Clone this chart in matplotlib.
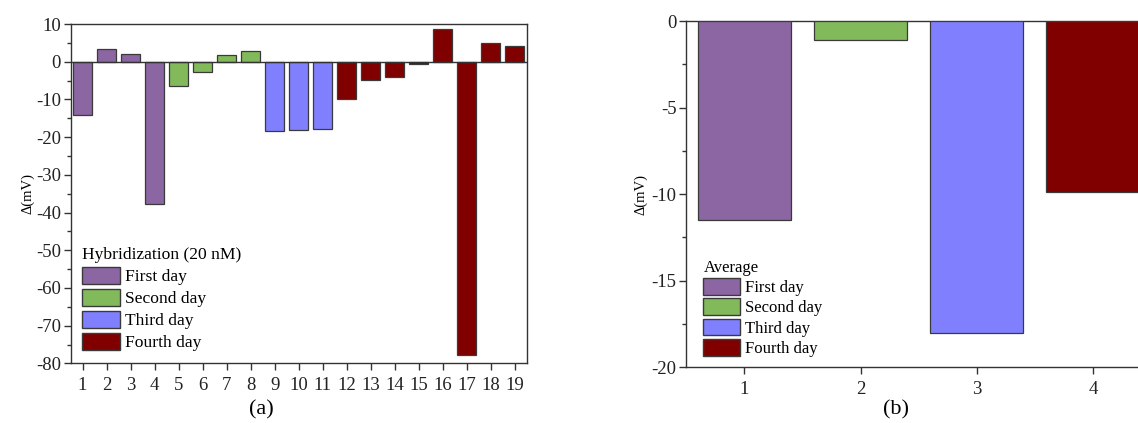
import matplotlib.pyplot as plt
from matplotlib.patches import Patch
from matplotlib.ticker import MultipleLocator

plt.rcParams['font.family'] = ['Liberation Serif', 'DejaVu Serif']
plt.rcParams['axes.unicode_minus'] = False

# data
samples = list(range(1, 20))
delta_mv = [-14.1, 3.3, 2.2, -37.7, -6.4, -2.8, 1.8, 2.9, -18.4, -18.0, -17.7,
            -10.0, -4.9, -4.0, -0.7, 8.6, -77.9, 5.1, 4.2]
sample_day = [0, 0, 0, 0, 1, 1, 1, 1, 2, 2, 2, 3, 3, 3, 3, 3, 3, 3, 3]

days = [1, 2, 3, 4]
avg_mv = [-11.5, -1.1, -18.0, -9.9]

day_labels = ["First day", "Second day", "Third day", "Fourth day"]
day_colors = ["#8C65A3", "#82BA5B", "#8080FF", "#800000"]
edge = "#3a3a3a"

fig = plt.figure(figsize=(11.38, 4.23), dpi=100)
ax_a = fig.add_axes([0.062, 0.141, 0.401, 0.802])
ax_b = fig.add_axes([0.603, 0.132, 0.4085, 0.818])

# (a) individual measurements
ax_a.bar(samples, delta_mv, width=0.8, color=[day_colors[d] for d in sample_day],
         edgecolor=edge, linewidth=0.9, zorder=3)
ax_a.axhline(0, color="#333333", lw=1.0, zorder=4)
ax_a.set_xlim(0.5, 19.5)
ax_a.set_ylim(-80, 10)
ax_a.set_xticks(samples)
ax_a.yaxis.set_major_locator(MultipleLocator(10))
ax_a.yaxis.set_minor_locator(MultipleLocator(5))
ax_a.set_ylabel("Δ(mV)", fontsize=10.5, labelpad=1)

# (b) averages
ax_b.bar(days, avg_mv, width=0.8, color=day_colors, edgecolor=edge,
         linewidth=0.9, zorder=3)
ax_b.set_xlim(0.5, 4.5)
ax_b.set_ylim(-20, 0)
ax_b.set_xticks(days)
ax_b.yaxis.set_major_locator(MultipleLocator(5))
ax_b.yaxis.set_minor_locator(MultipleLocator(2.5))
ax_b.set_ylabel("Δ(mV)", fontsize=10.5, labelpad=3)

for ax in (ax_a, ax_b):
    for s in ax.spines.values():
        s.set_color("#333333")
        s.set_linewidth(1.0)
    ax.tick_params(axis="both", which="major", direction="out", length=5,
                   width=1.0, color="#333333", labelsize=13.5, pad=2,
                   labelcolor="#222222")
    ax.tick_params(axis="y", which="minor", direction="out", length=3,
                   width=1.0, color="#333333")
    ax.tick_params(axis="x", which="major", pad=5)

handles = [Patch(facecolor=c, edgecolor=edge, linewidth=1.0) for c in day_colors]

leg_a = ax_a.legend(handles, day_labels, title="Hybridization (20 nM)",
                    loc="lower left", bbox_to_anchor=(-0.002, 0.0),
                    frameon=False, fontsize=12.6, title_fontsize=12.6,
                    handlelength=2.15, handleheight=1.12, labelspacing=0.2,
                    handletextpad=0.3, borderpad=0.2, alignment="left")
leg_b = ax_b.legend(handles, day_labels, title="Average",
                    loc="lower left", bbox_to_anchor=(0.012, -0.005),
                    frameon=False, fontsize=12, title_fontsize=12,
                    handlelength=2.2, handleheight=1.15, labelspacing=0.15,
                    handletextpad=0.3, borderpad=0.2, alignment="left")

fig.text(0.23, 0.031, "(a)", fontsize=16, ha="center", va="center")
fig.text(0.787, 0.031, "(b)", fontsize=16, ha="center", va="center")

fig.savefig("out.png", dpi=100)
